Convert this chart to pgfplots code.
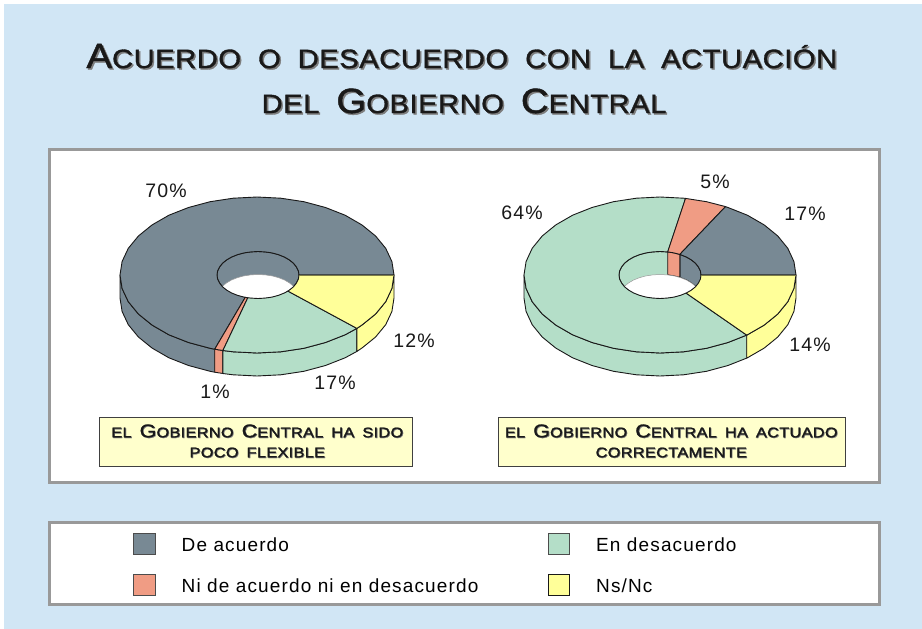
\documentclass[border=0pt]{standalone}
\usepackage{fontspec}
\usepackage{pgfplots}
\pgfplotsset{compat=1.18}
\setmainfont{Liberation Sans}
\newfontfamily\lab[LetterSpace=6]{Liberation Sans}
\newfontfamily\ttl[FakeStretch=1.1,LetterSpace=2,FakeBold=1.3]{Liberation Sans}
\newfontfamily\cpt[FakeStretch=1.17,LetterSpace=2,FakeBold=1.3]{Liberation Sans}
\definecolor{bgblue}{RGB}{209,230,245}
\definecolor{frame}{RGB}{153,153,153}
\definecolor{cgray}{RGB}{120,137,148}
\definecolor{csal}{RGB}{240,156,132}
\definecolor{cgreen}{RGB}{180,222,200}
\definecolor{cyel}{RGB}{255,255,153}
\definecolor{cbox}{RGB}{255,255,204}
\definecolor{shad}{RGB}{125,125,125}
\newcommand{\TA}[2]{{\fontsize{35}{35}\selectfont #1}{\fontsize{26.5}{26.5}\selectfont #2}}
\newcommand{\TB}[1]{{\fontsize{26.5}{26.5}\selectfont #1}}
\newcommand{\CA}[2]{{\fontsize{18.5}{18.5}\selectfont #1}{\fontsize{14}{14}\selectfont #2}}
\newcommand{\CB}[1]{{\fontsize{14}{14}\selectfont #1}}
\newcommand{\tg}{\hspace{17pt}}
\newcommand{\cg}{\hspace{8pt}}
\newcommand{\titleA}{\TA{A}{CUERDO}\tg\TB{O}\tg\TB{DESACUERDO}\tg\TB{CON}\tg\TB{LA}\tg\TB{ACTUACIÓN}}
\newcommand{\titleB}{\TB{DEL}\tg\TA{G}{OBIERNO}\tg\TA{C}{ENTRAL}}
\newcommand{\capL}{\CB{EL}\cg\CA{G}{OBIERNO}\cg\CA{C}{ENTRAL}\cg\CB{HA}\cg\CB{SIDO}}
\newcommand{\capLb}{\CB{POCO}\cg\CB{FLEXIBLE}}
\newcommand{\capR}{\CB{EL}\cg\CA{G}{OBIERNO}\cg\CA{C}{ENTRAL}\cg\CB{HA}\cg\CB{ACTUADO}}
\newcommand{\capRb}{\CB{CORRECTAMENTE}}
\tikzset{
  slice/.style={fill=#1,draw=black!90,line width=0.9pt,line join=round},
  wall/.style={fill=#1,draw=black!90,line width=0.9pt,line join=round},
  pct/.style={font=\lab\fontsize{19.5}{19.5}\selectfont,text=black!90,inner sep=0pt},
  leg/.style={font=\lab\fontsize{19}{19}\selectfont,text=black,inner sep=0pt,anchor=base west},
  boxt/.style={font=\ttl,inner sep=0pt,anchor=base},
  capt/.style={font=\cpt,inner sep=0pt,anchor=base},
}
\begin{document}
\begin{tikzpicture}
\begin{axis}[
  hide axis, scale only axis, width=922pt, height=629pt,
  xmin=0, xmax=922, ymin=0, ymax=629, y dir=reverse, clip=true]

% page and panels
\addplot[fill=white,draw=none] coordinates {(0,0)(922,0)(922,629)(0,629)} --cycle;
\addplot[fill=bgblue,draw=none] coordinates {(4,4)(922,4)(922,629)(4,629)} --cycle;
\addplot[fill=white,draw=frame,line width=3pt] coordinates {(49.5,149.5)(879.5,149.5)(879.5,482.5)(49.5,482.5)} --cycle;
\addplot[fill=white,draw=frame,line width=3pt] coordinates {(49.5,522.5)(879.5,522.5)(879.5,604)(49.5,604)} --cycle;

% ---------- LEFT DONUT: 12 / 17 / 1 / 70 ----------
% outer walls
\addplot[wall=cgray] coordinates {(120,275)(122.1,288.5)(128.3,301.7)(138.4,314)(152.1,325.1)(168.9,334.8)(188.5,342.5)(210.1,348.3)(214.7,349.2)(214.7,372.2)(210.1,371.3)(188.5,365.5)(168.9,357.8)(152.1,348.1)(138.4,337)(128.3,324.7)(122.1,311.5)(120,298)} --cycle;
\addplot[wall=csal] coordinates {(214.7,349.2)(222.9,350.5)(222.9,373.5)(214.7,372.2)} --cycle;
\addplot[wall=cgreen] coordinates {(222.9,350.5)(233.2,351.8)(257,353)(280.8,351.8)(303.9,348.3)(325.5,342.5)(345.1,334.8)(356.9,328.4)(356.9,351.4)(345.1,357.8)(325.5,365.5)(303.9,371.3)(280.8,374.8)(257,376)(233.2,374.8)(222.9,373.5)} --cycle;
\addplot[wall=cyel] coordinates {(356.9,328.4)(361.9,325.1)(375.6,314)(385.7,301.7)(391.9,288.5)(394,275)(394,298)(391.9,311.5)(385.7,324.7)(375.6,337)(361.9,348.1)(356.9,351.4)} --cycle;
% hole: far wall, then the opening
\addplot[wall=cgray] coordinates {(299,275)(298.4,270.9)(296.5,267)(293.5,263.25)(289.4,259.9)(284.4,257)(278.5,254.65)(272,252.9)(265.1,251.9)(258,251.5)(250.9,251.9)(244,252.9)(237.5,254.65)(231.6,257)(226.6,259.9)(222.5,263.25)(219.5,267)(217.6,270.9)(217,275)(217.6,279.1)(219.5,283)(222.5,286.75)(226.6,290.1)(231.6,293)(237.5,295.35)(244,297.1)(250.9,298.1)(258,298.5)(265.1,298.1)(272,297.1)(278.5,295.35)(284.4,293)(289.4,290.1)(293.5,286.75)(296.5,283)(298.4,279.1)} --cycle;
\addplot[fill=white,draw=black!40,line width=0.5pt] coordinates {(222.2,286.5)(226.6,282.9)(231.6,280)(237.5,277.65)(244,275.9)(250.9,274.9)(258,274.5)(265.1,274.9)(272,275.9)(278.5,277.65)(284.4,280)(289.4,282.9)(293.8,286.5)(289.4,290.1)(284.4,293)(278.5,295.35)(272,297.1)(265.1,298.1)(258,298.5)(250.9,298.1)(244,297.1)(237.5,295.35)(231.6,293)(226.6,290.1)} --cycle;
% top slices
\addplot[slice=cgray] coordinates {(394,275)(391.9,261.5)(385.7,248.3)(375.6,236)(361.9,224.9)(345.1,215.2)(325.5,207.5)(303.9,201.7)(280.8,198.2)(257,197)(233.2,198.2)(210.1,201.7)(188.5,207.5)(168.9,215.2)(152.1,224.9)(138.4,236)(128.3,248.3)(122.1,261.5)(120,275)(122.1,288.5)(128.3,301.7)(138.4,314)(152.1,325.1)(168.9,334.8)(188.5,342.5)(210.1,348.3)(214.7,349.2)
(245.3,297.3)(244,297.1)(237.5,295.35)(231.6,293)(226.6,290.1)(222.5,286.75)(219.5,283)(217.6,279.1)(217,275)(217.6,270.9)(219.5,267)(222.5,263.25)(226.6,259.9)(231.6,257)(237.5,254.65)(244,252.9)(250.9,251.9)(258,251.5)(265.1,251.9)(272,252.9)(278.5,254.65)(284.4,257)(289.4,259.9)(293.5,263.25)(296.5,267)(298.4,270.9)(299,275)} --cycle;
\addplot[slice=csal] coordinates {(214.7,349.2)(222.9,350.5)(247.8,297.8)(245.3,297.3)} --cycle;
\addplot[slice=cgreen] coordinates {(222.9,350.5)(233.2,351.8)(257,353)(280.8,351.8)(303.9,348.3)(325.5,342.5)(345.1,334.8)(356.9,328.4)(287.9,291.1)(284.4,293)(278.5,295.35)(272,297.1)(265.1,298.1)(258,298.5)(250.9,298.1)(247.8,297.8)} --cycle;
\addplot[slice=cyel] coordinates {(356.9,328.4)(361.9,325.1)(375.6,314)(385.7,301.7)(391.9,288.5)(394,275)(299,275)(298.4,279.1)(296.5,283)(293.5,286.75)(289.4,290.1)(287.9,291.1)} --cycle;
\addplot[draw={rgb,255:red,125;green,125;blue,70},line width=1pt] coordinates {(299,275)(394,275)};

% ---------- RIGHT DONUT: 14 / 64 / 5 / 17 ----------
% outer walls
\addplot[wall=cgreen] coordinates {(524,275)(526.1,288.5)(532.2,301.7)(542.2,314)(555.8,325.1)(572.6,334.8)(592,342.5)(613.5,348.3)(636.4,351.8)(660,353)(683.6,351.8)(706.5,348.3)(728,342.5)(746.7,335.1)(746.7,358.1)(728,365.5)(706.5,371.3)(683.6,374.8)(660,376)(636.4,374.8)(613.5,371.3)(592,365.5)(572.6,357.8)(555.8,348.1)(542.2,337)(532.2,324.7)(526.1,311.5)(524,298)} --cycle;
\addplot[wall=cyel] coordinates {(746.7,335.1)(747.4,334.8)(764.2,325.1)(777.8,314)(787.8,301.7)(793.9,288.5)(796,275)(796,298)(793.9,311.5)(787.8,324.7)(777.8,337)(764.2,348.1)(747.4,357.8)(746.7,358.1)} --cycle;
% hole: far wall in the colours of the slices, then the opening
\addplot[wall=cgreen] coordinates {(701,275)(700.4,270.9)(698.5,267)(695.5,263.25)(691.4,259.9)(686.4,257)(680.5,254.65)(674,252.9)(667.1,251.9)(660,251.5)(652.9,251.9)(646,252.9)(639.5,254.65)(633.6,257)(628.6,259.9)(624.5,263.25)(621.5,267)(619.6,270.9)(619,275)(619.6,279.1)(621.5,283)(624.5,286.75)(628.6,290.1)(633.6,293)(639.5,295.35)(646,297.1)(652.9,298.1)(660,298.5)(667.1,298.1)(674,297.1)(680.5,295.35)(686.4,293)(691.4,290.1)(695.5,286.75)(698.5,283)(700.4,279.1)} --cycle;
\addplot[wall=cgray] coordinates {(701,275)(700.4,270.9)(698.5,267)(695.5,263.25)(691.4,259.9)(686.4,257)(680.5,254.65)(679.8,254.4)(679.8,277.4)(680.5,277.65)(686.4,280)(691.4,282.9)(695.5,286.25)(698.5,290)(700.4,293.9)(701,298)} --cycle;
\addplot[wall=csal] coordinates {(679.8,254.4)(674,252.9)(667.7,251.9)(667.7,274.9)(674,275.9)(679.8,277.4)} --cycle;
\addplot[fill=white,draw=black!40,line width=0.5pt] coordinates {(624.2,286.5)(628.6,282.9)(633.6,280)(639.5,277.65)(646,275.9)(652.9,274.9)(660,274.5)(667.1,274.9)(674,275.9)(680.5,277.65)(686.4,280)(691.4,282.9)(695.8,286.5)(691.4,290.1)(686.4,293)(680.5,295.35)(674,297.1)(667.1,298.1)(660,298.5)(652.9,298.1)(646,297.1)(639.5,295.35)(633.6,293)(628.6,290.1)} --cycle;
% top slices
\addplot[slice=cgreen] coordinates {(746.7,335.1)(728,342.5)(706.5,348.3)(683.6,351.8)(660,353)(636.4,351.8)(613.5,348.3)(592,342.5)(572.6,334.8)(555.8,325.1)(542.2,314)(532.2,301.7)(526.1,288.5)(524,275)(526.1,261.5)(532.2,248.3)(542.2,236)(555.8,224.9)(572.6,215.2)(592,207.5)(613.5,201.7)(636.4,198.2)(660,197)(683.6,198.2)(685.5,198.4)
(667.7,251.9)(667.1,251.9)(660,251.5)(652.9,251.9)(646,252.9)(639.5,254.65)(633.6,257)(628.6,259.9)(624.5,263.25)(621.5,267)(619.6,270.9)(619,275)(619.6,279.1)(621.5,283)(624.5,286.75)(628.6,290.1)(633.6,293)(639.5,295.35)(646,297.1)(652.9,298.1)(660,298.5)(667.1,298.1)(674,297.1)(680.5,295.35)(686.1,293.1)} --cycle;
\addplot[slice=csal] coordinates {(685.5,198.4)(706.5,201.7)(725.5,206.6)(679.8,254.4)(674,252.9)(667.7,251.9)} --cycle;
\addplot[slice=cgray] coordinates {(725.5,206.6)(728,207.5)(747.4,215.2)(764.2,224.9)(777.8,236)(787.8,248.3)(793.9,261.5)(796,275)(701,275)(700.4,270.9)(698.5,267)(695.5,263.25)(691.4,259.9)(686.4,257)(680.5,254.65)(679.8,254.4)} --cycle;
\addplot[slice=cyel] coordinates {(746.7,335.1)(747.4,334.8)(764.2,325.1)(777.8,314)(787.8,301.7)(793.9,288.5)(796,275)(701,275)(700.4,279.1)(698.5,283)(695.5,286.75)(691.4,290.1)(686.4,293)(686.1,293.1)} --cycle;
\addplot[draw={rgb,255:red,125;green,125;blue,70},line width=1pt] coordinates {(701,275)(796,275)};

% caption boxes
\addplot[fill=cbox,draw=black!75,line width=0.8pt] coordinates {(99.5,417.5)(412,417.5)(412,466.5)(99.5,466.5)} --cycle;
\addplot[fill=cbox,draw=black!75,line width=0.8pt] coordinates {(498,417.5)(845,417.5)(845,466.5)(498,466.5)} --cycle;

% legend keys
\addplot[fill=cgray,draw=black!70,line width=0.7pt] coordinates {(133.5,533.5)(155,533.5)(155,554.5)(133.5,554.5)} --cycle;
\addplot[fill=csal,draw=black!70,line width=0.7pt] coordinates {(133.5,574.5)(155,574.5)(155,595.5)(133.5,595.5)} --cycle;
\addplot[fill=cgreen,draw=black!70,line width=0.7pt] coordinates {(548,533.5)(569,533.5)(569,554.5)(548,554.5)} --cycle;
\addplot[fill=cyel,draw=black!90,line width=0.7pt] coordinates {(548,574.5)(569,574.5)(569,595.5)(548,595.5)} --cycle;

% title
\node[boxt,text=shad] at (axis cs:463.3,69.5) {\titleA};
\node[boxt,text=black!90] at (axis cs:461.8,68) {\titleA};
\node[boxt,text=shad] at (axis cs:465.5,114.5) {\titleB};
\node[boxt,text=black!90] at (axis cs:464,113) {\titleB};

% percentages
\node[pct] at (axis cs:166,191) {70\%};
\node[pct] at (axis cs:414,341) {12\%};
\node[pct] at (axis cs:335,383) {17\%};
\node[pct] at (axis cs:215,392) {1\%};
\node[pct] at (axis cs:522,213) {64\%};
\node[pct] at (axis cs:715,182) {5\%};
\node[pct] at (axis cs:805,214) {17\%};
\node[pct] at (axis cs:810,345) {14\%};

% caption text
\node[capt,text=shad] at (axis cs:258,438) {\capL};
\node[capt,text=black!90] at (axis cs:257.3,437.3) {\capL};
\node[capt,text=shad] at (axis cs:258,458) {\capLb};
\node[capt,text=black!90] at (axis cs:257.3,457.3) {\capLb};
\node[capt,text=shad] at (axis cs:672,438) {\capR};
\node[capt,text=black!90] at (axis cs:671.3,437.3) {\capR};
\node[capt,text=shad] at (axis cs:672,458) {\capRb};
\node[capt,text=black!90] at (axis cs:671.3,457.3) {\capRb};

% legend text
\node[leg] at (axis cs:181.5,551.5) {De acuerdo};
\node[leg] at (axis cs:181.5,592) {Ni de acuerdo ni en desacuerdo};
\node[leg] at (axis cs:596,551.5) {En desacuerdo};
\node[leg] at (axis cs:596,592) {Ns/Nc};
\end{axis}
\end{tikzpicture}
\end{document}
